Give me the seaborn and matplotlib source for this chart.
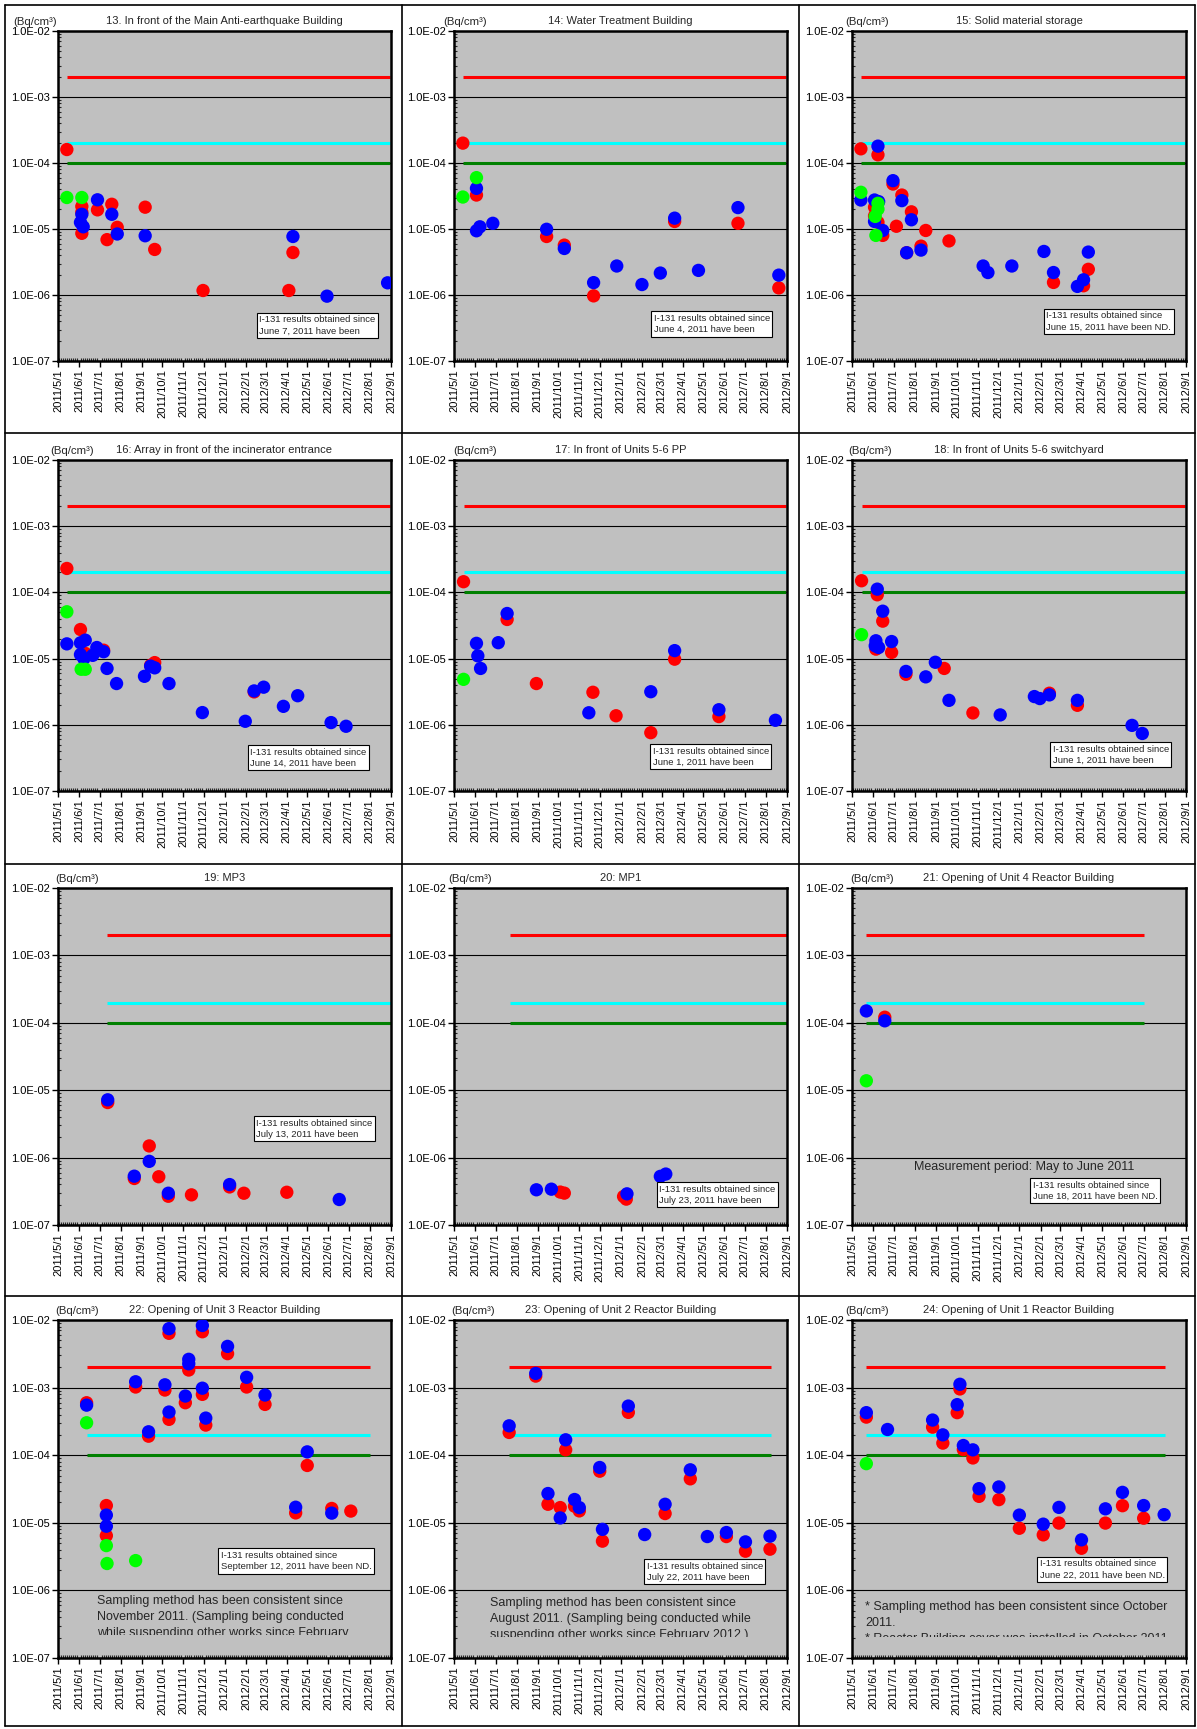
import matplotlib
matplotlib.use("Agg")
import pandas as pd
import numpy as np
import seaborn as sns
import matplotlib.pyplot as plt
import matplotlib.dates as mdates
from matplotlib.ticker import LogLocator, FuncFormatter, NullFormatter
from matplotlib.transforms import Bbox, TransformedBbox
from matplotlib.lines import Line2D

# --- data: (date, Bq/cm3) ---
# red = Cs-134, blue = Cs-137, green = I-131
p13_cs134 = [("2011-05-14", 1.6e-4), ("2011-06-05", 2.2e-5), ("2011-06-05", 1.8e-5), ("2011-06-05", 8.6e-6),
             ("2011-06-28", 1.95e-5), ("2011-07-12", 6.9e-6), ("2011-07-19", 2.37e-5), ("2011-07-27", 1.06e-5),
             ("2011-09-06", 2.14e-5), ("2011-09-20", 4.9e-6), ("2011-11-30", 1.17e-6), ("2012-04-04", 1.17e-6),
             ("2012-04-10", 4.4e-6)]
p13_cs137 = [("2011-06-03", 1.26e-5), ("2011-06-05", 1.67e-5), ("2011-06-07", 1.08e-5), ("2011-06-28", 2.77e-5),
             ("2011-07-19", 1.67e-5), ("2011-07-27", 8.4e-6), ("2011-09-06", 7.9e-6), ("2012-04-10", 7.7e-6),
             ("2012-05-30", 9.6e-7), ("2012-08-27", 1.53e-6)]
p13_i131 = [("2011-05-14", 3.0e-5), ("2011-06-05", 3.0e-5)]

p14_cs134 = [("2011-05-14", 2.0e-4), ("2011-06-03", 3.27e-5), ("2011-09-14", 7.7e-6), ("2011-10-10", 5.7e-6),
             ("2011-11-22", 9.7e-7), ("2012-03-20", 1.3e-5), ("2012-06-21", 1.22e-5), ("2012-08-20", 1.28e-6)]
p14_cs137 = [("2011-06-03", 4.13e-5), ("2011-06-03", 9.4e-6), ("2011-06-08", 1.08e-5), ("2011-06-27", 1.22e-5),
             ("2011-09-14", 9.9e-6), ("2011-10-10", 5.07e-6), ("2011-11-22", 1.54e-6), ("2011-12-26", 2.75e-6),
             ("2012-02-01", 1.44e-6), ("2012-02-28", 2.15e-6), ("2012-03-20", 1.46e-5), ("2012-04-24", 2.36e-6),
             ("2012-06-21", 2.11e-5), ("2012-08-20", 2.0e-6)]
p14_i131 = [("2011-05-14", 3.05e-5), ("2011-06-03", 6.0e-5)]

p15_cs134 = [("2011-05-14", 1.64e-4), ("2011-06-08", 1.33e-4), ("2011-06-03", 2.14e-5), ("2011-06-03", 1.58e-5),
             ("2011-06-08", 1.26e-5), ("2011-06-15", 8.0e-6), ("2011-06-30", 4.8e-5), ("2011-07-13", 3.27e-5),
             ("2011-07-05", 1.1e-5), ("2011-07-20", 4.37e-6), ("2011-07-27", 1.82e-5), ("2011-08-10", 5.5e-6),
             ("2011-08-17", 9.5e-6), ("2011-09-20", 6.6e-6), ("2012-02-20", 1.55e-6), ("2012-04-04", 1.38e-6),
             ("2012-04-11", 2.45e-6)]
p15_cs137 = [("2011-05-14", 2.75e-5), ("2011-06-08", 1.8e-4), ("2011-06-03", 2.75e-5), ("2011-06-09", 2.6e-5),
             ("2011-06-03", 1.3e-5), ("2011-06-15", 9.5e-6), ("2011-06-30", 5.4e-5), ("2011-07-13", 2.69e-5),
             ("2011-07-20", 4.37e-6), ("2011-07-27", 1.38e-5), ("2011-08-10", 4.79e-6), ("2011-11-09", 2.75e-6),
             ("2011-11-16", 2.19e-6), ("2011-12-21", 2.75e-6), ("2012-02-06", 4.57e-6), ("2012-02-20", 2.19e-6),
             ("2012-03-26", 1.35e-6), ("2012-04-04", 1.7e-6), ("2012-04-11", 4.47e-6)]
p15_i131 = [("2011-05-14", 3.6e-5), ("2011-06-08", 2.45e-5), ("2011-06-08", 2.0e-5), ("2011-06-04", 1.55e-5),
            ("2011-06-05", 8.0e-6)]

p16_cs134 = [("2011-05-14", 2.3e-4), ("2011-06-03", 2.75e-5), ("2011-06-10", 1.2e-5), ("2011-07-07", 1.34e-5),
             ("2011-09-14", 7.9e-6), ("2011-09-20", 8.7e-6), ("2012-02-13", 3.14e-6)]
p16_cs137 = [("2011-05-14", 1.67e-5), ("2011-06-03", 1.73e-5), ("2011-06-10", 1.9e-5), ("2011-06-03", 1.15e-5),
             ("2011-06-08", 1.0e-5), ("2011-06-21", 1.12e-5), ("2011-06-27", 1.47e-5), ("2011-07-07", 1.27e-5),
             ("2011-07-12", 7.1e-6), ("2011-07-26", 4.2e-6), ("2011-09-05", 5.4e-6), ("2011-09-14", 7.7e-6),
             ("2011-09-20", 7.25e-6), ("2011-10-11", 4.2e-6), ("2011-11-29", 1.53e-6), ("2012-01-31", 1.13e-6),
             ("2012-02-13", 3.25e-6), ("2012-02-27", 3.7e-6), ("2012-03-27", 1.9e-6), ("2012-04-17", 2.75e-6),
             ("2012-06-05", 1.08e-6), ("2012-06-27", 9.5e-7)]
p16_i131 = [("2011-05-14", 5.1e-5), ("2011-06-04", 6.9e-6), ("2011-06-10", 6.9e-6)]

p17_cs134 = [("2011-05-15", 1.45e-4), ("2011-07-18", 3.9e-5), ("2011-08-30", 4.2e-6), ("2011-11-21", 3.1e-6),
             ("2011-12-25", 1.37e-6), ("2012-02-14", 7.6e-7), ("2012-03-20", 9.8e-6), ("2012-05-24", 1.33e-6)]
p17_cs137 = [("2011-06-03", 1.7e-5), ("2011-06-05", 1.1e-5), ("2011-06-09", 7.1e-6), ("2011-07-05", 1.74e-5),
             ("2011-07-18", 4.8e-5), ("2011-11-15", 1.52e-6), ("2012-02-14", 3.16e-6), ("2012-03-20", 1.32e-5),
             ("2012-05-24", 1.69e-6), ("2012-08-15", 1.17e-6)]
p17_i131 = [("2011-05-15", 4.86e-6)]

p18_cs134 = [("2011-05-15", 1.5e-4), ("2011-06-07", 9.2e-5), ("2011-06-15", 3.68e-5), ("2011-06-05", 1.39e-5),
             ("2011-06-28", 1.24e-5), ("2011-07-19", 5.8e-6), ("2011-09-13", 7.1e-6), ("2011-10-25", 1.51e-6),
             ("2012-02-14", 3.0e-6), ("2012-03-26", 1.97e-6)]
p18_cs137 = [("2011-06-07", 1.12e-4), ("2011-06-15", 5.2e-5), ("2011-06-05", 1.86e-5), ("2011-06-04", 1.56e-5),
             ("2011-06-09", 1.47e-5), ("2011-06-28", 1.81e-5), ("2011-07-19", 6.4e-6), ("2011-08-17", 5.3e-6),
             ("2011-08-31", 8.8e-6), ("2011-09-20", 2.34e-6), ("2011-12-04", 1.41e-6), ("2012-01-23", 2.67e-6),
             ("2012-01-31", 2.49e-6), ("2012-02-14", 2.83e-6), ("2012-03-26", 2.34e-6), ("2012-06-14", 9.8e-7),
             ("2012-06-29", 7.4e-7)]
p18_i131 = [("2011-05-15", 2.3e-5)]

p19_cs134 = [("2011-07-13", 6.56e-6), ("2011-08-21", 4.9e-7), ("2011-09-12", 1.49e-6), ("2011-09-26", 5.2e-7),
             ("2011-10-10", 2.67e-7), ("2011-11-13", 2.8e-7), ("2012-01-08", 3.67e-7), ("2012-01-29", 2.96e-7),
             ("2012-04-01", 3.06e-7)]
p19_cs137 = [("2011-07-13", 7.2e-6), ("2011-08-21", 5.3e-7), ("2011-09-12", 8.8e-7), ("2011-10-10", 2.96e-7),
             ("2012-01-08", 3.98e-7), ("2012-06-17", 2.39e-7)]
p19_i131 = []

p20_cs134 = [("2011-10-04", 3.08e-7), ("2011-10-10", 2.97e-7), ("2012-01-05", 2.65e-7), ("2012-01-09", 2.42e-7)]
p20_cs137 = [("2011-08-30", 3.33e-7), ("2011-09-21", 3.4e-7), ("2012-01-10", 2.9e-7), ("2012-02-28", 5.27e-7),
             ("2012-03-07", 5.7e-7)]
p20_i131 = []

p21_cs134 = [("2011-06-18", 1.21e-4)]
p21_cs137 = [("2011-05-22", 1.5e-4), ("2011-06-18", 1.07e-4)]
p21_i131 = [("2011-05-22", 1.38e-5)]

p22_cs134 = [("2011-06-12", 5.97e-4), ("2011-07-11", 1.8e-5), ("2011-07-11", 6.46e-6), ("2011-08-23", 1.02e-3),
             ("2011-09-11", 1.91e-4), ("2011-10-05", 9.2e-4), ("2011-10-11", 6.35e-3), ("2011-10-11", 3.39e-4),
             ("2011-11-04", 5.97e-4), ("2011-11-09", 1.82e-3), ("2011-11-29", 7.94e-4), ("2011-11-29", 6.7e-3),
             ("2011-12-04", 2.79e-4), ("2012-01-05", 3.18e-3), ("2012-02-02", 1.02e-3), ("2012-02-29", 5.64e-4),
             ("2012-04-14", 1.4e-5), ("2012-05-01", 7.05e-5), ("2012-06-06", 1.63e-5), ("2012-07-04", 1.49e-5)]
p22_cs137 = [("2011-06-12", 5.5e-4), ("2011-07-11", 1.3e-5), ("2011-07-11", 8.9e-6), ("2011-08-23", 1.22e-3),
             ("2011-09-11", 2.22e-4), ("2011-10-05", 1.1e-3), ("2011-10-11", 7.45e-3), ("2011-10-11", 4.35e-4),
             ("2011-11-04", 7.5e-4), ("2011-11-09", 2.62e-3), ("2011-11-09", 2.25e-3), ("2011-11-29", 9.8e-4),
             ("2011-11-29", 8.3e-3), ("2011-12-04", 3.54e-4), ("2012-01-05", 4.07e-3), ("2012-02-02", 1.42e-3),
             ("2012-02-29", 7.76e-4), ("2012-04-14", 1.7e-5), ("2012-05-01", 1.12e-4), ("2012-06-06", 1.39e-5)]
p22_i131 = [("2011-06-12", 3.02e-4), ("2011-07-11", 4.6e-6), ("2011-07-12", 2.5e-6), ("2011-08-23", 2.76e-6)]

p23_cs134 = [("2011-07-21", 2.17e-4), ("2011-08-29", 1.48e-3), ("2011-09-16", 1.88e-5), ("2011-10-04", 1.68e-5),
             ("2011-10-12", 1.2e-4), ("2011-10-25", 1.76e-5), ("2011-11-01", 1.5e-5), ("2011-12-01", 5.8e-5),
             ("2011-12-05", 5.35e-6), ("2012-01-12", 4.3e-4), ("2012-03-06", 1.37e-5), ("2012-04-12", 4.47e-5),
             ("2012-06-04", 6.26e-6), ("2012-07-02", 3.8e-6), ("2012-08-07", 4.07e-6)]
p23_cs137 = [("2011-07-21", 2.72e-4), ("2011-08-29", 1.62e-3), ("2011-09-16", 2.71e-5), ("2011-10-04", 1.18e-5),
             ("2011-10-12", 1.69e-4), ("2011-10-25", 2.21e-5), ("2011-11-01", 1.68e-5), ("2011-12-01", 6.58e-5),
             ("2011-12-05", 8.0e-6), ("2012-01-12", 5.33e-4), ("2012-02-05", 6.7e-6), ("2012-03-06", 1.88e-5),
             ("2012-04-12", 6.08e-5), ("2012-05-07", 6.26e-6), ("2012-06-04", 7.18e-6), ("2012-07-02", 5.22e-6),
             ("2012-08-07", 6.34e-6)]
p23_i131 = []

p24_cs134 = [("2011-05-22", 3.66e-4), ("2011-08-27", 2.6e-4), ("2011-09-11", 1.51e-4), ("2011-10-02", 4.26e-4),
             ("2011-10-06", 9.55e-4), ("2011-10-11", 1.21e-4), ("2011-10-25", 9.1e-5), ("2011-11-03", 2.46e-5),
             ("2011-12-02", 2.2e-5), ("2012-01-01", 8.3e-6), ("2012-02-05", 6.63e-6), ("2012-02-28", 9.9e-6),
             ("2012-04-01", 4.2e-6), ("2012-05-06", 9.9e-6), ("2012-05-31", 1.79e-5), ("2012-07-01", 1.17e-5)]
p24_cs137 = [("2011-05-22", 4.26e-4), ("2011-06-22", 2.4e-4), ("2011-08-27", 3.31e-4), ("2011-09-11", 2.0e-4),
             ("2011-10-02", 5.6e-4), ("2011-10-06", 1.12e-3), ("2011-10-11", 1.39e-4), ("2011-10-25", 1.2e-4),
             ("2011-11-03", 3.2e-5), ("2011-12-02", 3.39e-5), ("2012-01-01", 1.3e-5), ("2012-02-05", 9.55e-6),
             ("2012-02-28", 1.69e-5), ("2012-04-01", 5.6e-6), ("2012-05-06", 1.61e-5), ("2012-05-31", 2.82e-5),
             ("2012-07-01", 1.8e-5), ("2012-07-31", 1.32e-5)]
p24_i131 = [("2011-05-22", 7.5e-5)]

titles = ["13. In front of the Main Anti-earthquake Building", "14: Water Treatment Building",
          "15: Solid material storage", "16: Array in front of the incinerator entrance",
          "17: In front of Units 5-6 PP", "18: In front of Units 5-6 switchyard",
          "19: MP3", "20: MP1", "21: Opening of Unit 4 Reactor Building",
          "22: Opening of Unit 3 Reactor Building", "23: Opening of Unit 2 Reactor Building",
          "24: Opening of Unit 1 Reactor Building"]

cs134_all = [p13_cs134, p14_cs134, p15_cs134, p16_cs134, p17_cs134, p18_cs134,
             p19_cs134, p20_cs134, p21_cs134, p22_cs134, p23_cs134, p24_cs134]
cs137_all = [p13_cs137, p14_cs137, p15_cs137, p16_cs137, p17_cs137, p18_cs137,
             p19_cs137, p20_cs137, p21_cs137, p22_cs137, p23_cs137, p24_cs137]
i131_all = [p13_i131, p14_i131, p15_i131, p16_i131, p17_i131, p18_i131,
            p19_i131, p20_i131, p21_i131, p22_i131, p23_i131, p24_i131]

# reference levels (Bq/cm3) and the period they are drawn over
ref_levels = [2e-3, 2e-4, 1e-4]
ref_colors = ["#FF0000", "#00FFFF", "#008000"]
ref_start = ["2011-05-14", "2011-05-14", "2011-05-14", "2011-05-14", "2011-05-15", "2011-05-15",
             "2011-07-12", "2011-07-22", "2011-05-22", "2011-06-12", "2011-07-21", "2011-05-22"]
ref_end = ["2012-08-31", "2012-08-31", "2012-08-31", "2012-08-31", "2012-08-31", "2012-08-31",
           "2012-09-05", "2012-09-05", "2012-07-01", "2012-08-01", "2012-08-08", "2012-08-01"]

nd_dates = ["June 7, 2011 have been", "June 4, 2011 have been", "June 15, 2011 have been ND.",
            "June 14, 2011 have been", "June 1, 2011 have been", "June 1, 2011 have been",
            "July 13, 2011 have been", "July 23, 2011 have been", "June 18, 2011 have been ND.",
            "September 12, 2011 have been ND.", "July 22, 2011 have been", "June 22, 2011 have been ND."]

notes = {
    9: ("Sampling method has been consistent since\nNovember 2011. (Sampling being conducted\n"
        "while suspending other works since February\n2012.)", 0.117, 0.187, 0.068),
    10: ("Sampling method has been consistent since\nAugust 2011. (Sampling being conducted while\n"
         "suspending other works since February 2012.)", 0.109, 0.181, 0.062),
    11: ("* Sampling method has been consistent since October\n2011.\n"
         "* Reactor Building cover was installed in October 2011.", 0.04, 0.169, 0.062),
}

# layout (pixels)
W, H = 1197, 1729
col_left = [58, 454, 852]
col_width = [333, 333, 334]
row_top = [31, 460, 888, 1320]
row_height = [330, 331, 337, 338]
bq_x = [-0.135, -0.033, -0.02, -0.024, -0.003, -0.012, -0.009, -0.018, -0.006, -0.009, -0.009, -0.021]
box_xy = [(0.596, 0.146), (0.592, 0.151), (0.574, 0.159), (0.569, 0.139), (0.589, 0.142), (0.593, 0.148),
          (0.587, 0.324), (0.608, 0.128), (0.533, 0.140), (0.480, 0.325), (0.571, 0.293), (0.554, 0.300)]

palette = {"Cs-134": "#FF0000", "Cs-137": "#0000FF", "I-131": "#00FF00"}

sns.set_style("ticks")
plt.rcParams["font.family"] = ["Liberation Sans", "DejaVu Sans"]

fig = plt.figure(figsize=(W / 100, H / 100), dpi=100)


def to_frame(cs134, cs137, i131):
    parts = []
    for name, pts in [("Cs-134", cs134), ("Cs-137", cs137), ("I-131", i131)]:
        if pts:
            d = pd.DataFrame(pts, columns=["date", "value"])
            d["nuclide"] = name
            parts.append(d)
    df = pd.concat(parts, ignore_index=True)
    df["date"] = pd.to_datetime(df["date"])
    return df


def date_label(v, pos):
    d = mdates.num2date(v)
    return f"{d.year}/{d.month}/{d.day}"


for i in range(12):
    r, c = divmod(i, 3)
    l, t, w, h = col_left[c], row_top[r], col_width[c], row_height[r]
    ax = fig.add_axes([l / W, 1 - (t + h) / H, w / W, h / H])
    ax.set_facecolor("#C0C0C0")
    ax.set_yscale("log")

    x0 = mdates.date2num(pd.Timestamp(ref_start[i]))
    x1 = mdates.date2num(pd.Timestamp(ref_end[i]))
    for lev, col in zip(ref_levels, ref_colors):
        ax.hlines(lev, x0, x1, color=col, lw=2.2, zorder=2)

    df = to_frame(cs134_all[i], cs137_all[i], i131_all[i])
    sns.scatterplot(data=df, x="date", y="value", hue="nuclide", palette=palette,
                    s=92, linewidth=0, legend=False, ax=ax, zorder=3)

    ax.set_xlim(pd.Timestamp("2011-05-01"), pd.Timestamp("2012-09-01"))
    ax.set_ylim(1e-7, 1e-2)
    ax.set_xlabel("")
    ax.set_ylabel("")

    ax.xaxis.set_major_locator(mdates.MonthLocator())
    ax.xaxis.set_major_formatter(FuncFormatter(date_label))
    ax.xaxis.set_minor_locator(mdates.DayLocator(interval=3))
    ax.yaxis.set_major_locator(LogLocator(base=10))
    ax.yaxis.set_minor_locator(LogLocator(base=10, subs=np.arange(2, 10)))
    ax.yaxis.set_minor_formatter(NullFormatter())
    ax.yaxis.set_major_formatter(FuncFormatter(lambda v, p: f"{v:.1E}"))

    ax.tick_params(axis="both", which="major", direction="out", length=4, width=1,
                   labelsize=8, colors="black", pad=2)
    ax.tick_params(axis="x", which="major", labelrotation=90)
    ax.tick_params(axis="both", which="minor", direction="in", length=2.5, width=0.8)
    ax.grid(axis="y", which="major", color="black", lw=0.8)
    ax.grid(axis="x", visible=False)
    ax.set_axisbelow(True)
    for sp in ax.spines.values():
        sp.set_visible(True)
        sp.set_color("black")
        sp.set_linewidth(1.8)

    ax.set_title(titles[i], fontsize=8, pad=5)
    ax.text(bq_x[i], 1.027, "(Bq/cm³)", transform=ax.transAxes, ha="left", va="center", fontsize=8.2)

    bx, by = box_xy[i]
    ax.text(bx + 0.008, by - 0.008, "I-131 results obtained since\n" + nd_dates[i],
            transform=ax.transAxes, ha="left", va="top", fontsize=6.8, linespacing=1.35, zorder=5,
            bbox=dict(boxstyle="square,pad=0.25", fc="white", ec="black", lw=0.8))

    if i == 8:
        ax.text(0.515, 0.173, "Measurement period: May to June 2011", transform=ax.transAxes,
                ha="center", va="center", fontsize=9)
    if i in notes:
        txt, nx, ny, clip_y = notes[i]
        t = ax.text(nx, ny, txt, transform=ax.transAxes, ha="left", va="top", fontsize=9,
                    linespacing=1.45)
        t.set_clip_on(True)
        t.set_clip_path(None)
        t.set_clip_box(TransformedBbox(Bbox([[0, clip_y], [1, 1]]), ax.transAxes))

# cell frame lines
xs = [5, 402, 799, 1195]
ys = [5, 433, 864, 1296, 1726]
for x in xs:
    fig.add_artist(Line2D([x / W, x / W], [1 - 5 / H, 1 - 1726 / H], color="black", lw=1.2,
                          transform=fig.transFigure))
for y in ys:
    fig.add_artist(Line2D([5 / W, 1195 / W], [1 - y / H, 1 - y / H], color="black", lw=1.2,
                          transform=fig.transFigure))

fig.savefig("out.png", dpi=100, facecolor="white")
